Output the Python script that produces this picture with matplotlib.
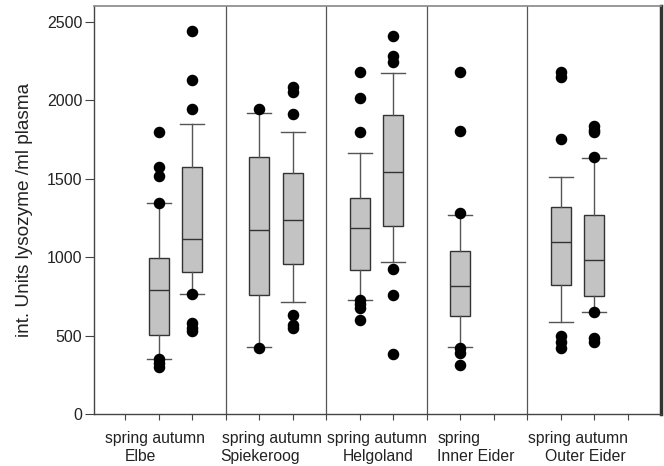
import matplotlib
matplotlib.use("Agg")
import matplotlib.pyplot as plt

plt.rcParams['font.family'] = ['Liberation Sans', 'DejaVu Sans']

# box positions on the x axis (one per sample)
positions = [2, 3, 5, 6, 8, 9, 11, 14, 15]
dividers = [4, 7, 10, 13]

# q1, median, q3, lower whisker, upper whisker
q1 = [502, 908, 758, 959, 919, 1201, 626, 825, 753]
med = [792, 1114, 1174, 1239, 1188, 1545, 813, 1099, 984]
q3 = [995, 1577, 1640, 1537, 1377, 1906, 1042, 1318, 1267]
whislo = [352, 764, 427, 711, 728, 968, 430, 586, 647]
whishi = [1344, 1849, 1917, 1800, 1666, 2171, 1267, 1513, 1632]
fliers = [
    [1800, 1577, 1519, 1344, 352, 325, 300],
    [2443, 2129, 1944, 764, 579, 550, 526],
    [1946, 418],
    [2082, 2055, 1912, 632, 569, 548],
    [2182, 2012, 1800, 728, 700, 675, 600],
    [2411, 2282, 2245, 927, 760, 382],
    [2182, 1806, 1280, 420, 388, 310],
    [2182, 2146, 1751, 499, 462, 420],
    [1836, 1810, 1795, 1640, 647, 484, 462],
]

line1 = ['spring autumn', 'spring autumn', 'spring autumn', 'spring', 'spring autumn']
line2 = ['Elbe', 'Spiekeroog', 'Helgoland', 'Inner Eider', 'Outer Eider']
line1_x = [1.90, 5.39, 8.52, 10.97, 14.52]
line2_x = [1.45, 5.03, 8.55, 11.48, 14.73]

stats = []
for i in range(len(positions)):
    stats.append(dict(q1=q1[i], med=med[i], q3=q3[i],
                      whislo=whislo[i], whishi=whishi[i], fliers=fliers[i]))

fig = plt.figure(figsize=(6.64, 4.66), dpi=100)
ax = fig.add_axes([0.1416, 0.1116, 0.854, 0.8754])

ax.bxp(stats, positions=positions, widths=0.6, capwidths=0.72,
       patch_artist=True, showfliers=True,
       boxprops=dict(facecolor='#c3c3c3', edgecolor='#333333', linewidth=1.0),
       medianprops=dict(color='#333333', linewidth=1.0),
       whiskerprops=dict(color='#555555', linewidth=1.0),
       capprops=dict(color='#555555', linewidth=1.0),
       flierprops=dict(marker='o', markerfacecolor='black', markeredgecolor='black',
                       markersize=7.3, linestyle='none'))

for d in dividers:
    ax.axvline(d, color='#555555', linewidth=0.9)

ax.set_xlim(0.07, 17)
ax.set_ylim(0, 2600)
ax.set_yticks([0, 500, 1000, 1500, 2000, 2500])
ax.set_xticks(range(1, 17))
ax.set_xticklabels([])
ax.tick_params(axis='y', direction='out', length=6.5, color='#444444',
               labelsize=11.5, labelcolor='#222222', pad=2)
ax.tick_params(axis='x', direction='out', length=4, color='#444444')

for side in ['left', 'bottom']:
    ax.spines[side].set_color('#444444')
    ax.spines[side].set_linewidth(1.0)
ax.spines['top'].set_color('#888888')
ax.spines['top'].set_linewidth(1.2)
ax.spines['right'].set_color('#333333')
ax.spines['right'].set_linewidth(2.5)

ax.set_ylabel('int. Units lysozyme /ml plasma', fontsize=13.7, color='#222222', labelpad=10)

for i in range(len(line1)):
    ax.text(line1_x[i], -0.061, line1[i], transform=ax.get_xaxis_transform(),
            ha='center', va='center', fontsize=11.3, color='#222222')
    ax.text(line2_x[i], -0.104, line2[i], transform=ax.get_xaxis_transform(),
            ha='center', va='center', fontsize=11.3, color='#222222')

fig.savefig('out.png', dpi=100)
